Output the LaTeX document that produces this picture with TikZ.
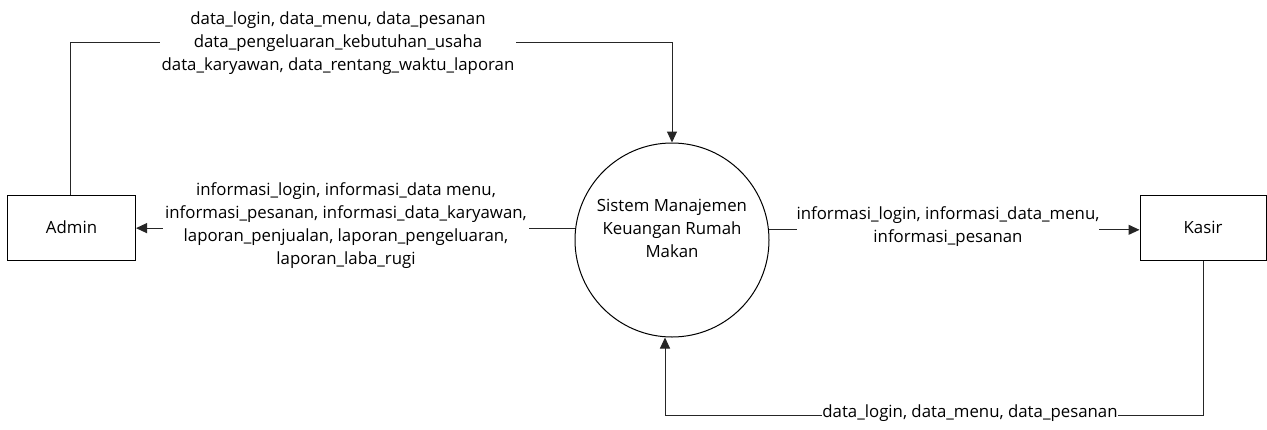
\documentclass[tikz,border=0pt]{standalone}
\usepackage{fontspec}
\setmainfont{Open Sans}
\usetikzlibrary{arrows.meta}
\begin{document}
\begin{tikzpicture}[x=1pt,y=-1pt,
  every node/.style={font=\fontsize{16.8}{23}\selectfont},
  ent/.style={draw,line width=1pt,minimum width=128pt,minimum height=65pt,inner sep=0pt},
  proc/.style={draw,circle,line width=1pt,minimum size=194pt,inner sep=0pt},
  flow/.style={line width=1pt,draw=black!85},
  arr/.style={flow,-{Triangle[length=11pt,width=10pt]}},
  lbl/.style={fill=white,align=center,inner sep=2pt}]
\useasboundingbox (0,0) rectangle (1267,429);
\node[ent] (admin) at (71.5,227.5) {Admin};
\node[ent,minimum width=126pt] (kasir) at (1203,227.5) {Kasir};
\node[proc] (circ) at (672,240) {};
\node[align=center] (ctext) at (672,228) {Sistem Manajemen\\Keuangan Rumah\\Makan};
\coordinate (tl) at (70,42);
\coordinate (tr) at (672,42);
\coordinate (br) at (1203,415);
\coordinate (bl) at (665,415);
% top flow
\draw[arr] (admin.north -| tl) -- (tl) -- (tr) -- (circ.north);
\node[lbl] (l1) at (338,43) {data\_login, data\_menu, data\_pesanan\\data\_pengeluaran\_kebutuhan\_usaha\\data\_karyawan, data\_rentang\_waktu\_laporan};
% left flow
\draw[arr] (circ.173.5) -- (admin.east |- circ.173.5);
\node[lbl] (l2) at (346,226) {informasi\_login, informasi\_data menu,\\informasi\_pesanan, informasi\_data\_karyawan,\\laporan\_penjualan, laporan\_pengeluaran,\\laporan\_laba\_rugi};
% right flow
\draw[arr] (circ.6.5) -- (kasir.west |- circ.6.5);
\node[lbl,inner sep=0pt] (l3) at (948,227) {informasi\_login, informasi\_data\_menu,\\informasi\_pesanan};
% bottom flow
\draw[arr] (kasir.south) -- (br) -- (bl) -- (circ.south -| bl);
\node[lbl,inner sep=0pt] (l4) at (970,413) {data\_login, data\_menu, data\_pesanan};
\end{tikzpicture}
\end{document}
